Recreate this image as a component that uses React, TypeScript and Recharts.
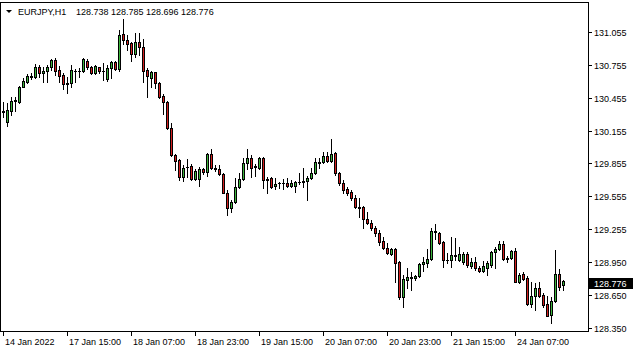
import { Bar, ComposedChart, XAxis, YAxis } from 'recharts';

// EURJPY H1, one value per candle
const opens = [
  130.334, 130.234, 130.334, 130.426, 130.417, 130.554, 130.6, 130.646, 130.646, 130.737,
  130.682, 130.701, 130.737, 130.802, 130.71, 130.664, 130.591, 130.591, 130.705, 130.701,
  130.701, 130.792, 130.737, 130.682, 130.737, 130.701, 130.628, 130.728, 130.783, 130.719,
  131.04, 130.985, 130.957, 130.856, 130.966, 130.921, 130.71, 130.637, 130.692, 130.591,
  130.472, 130.417, 130.179, 129.932, 129.886, 129.73, 129.818, 129.831, 129.712, 129.712,
  129.803, 129.776, 129.941, 129.812, 129.803, 129.758, 129.584, 129.446, 129.501, 129.638,
  129.712, 129.858, 129.904, 129.831, 129.812, 129.904, 129.712, 129.721, 129.648, 129.675,
  129.679, 129.675, 129.648, 129.648, 129.684, 129.689, 129.693, 129.721, 129.767, 129.867,
  129.867, 129.922, 129.877, 129.95, 129.767, 129.675, 129.62, 129.593, 129.538, 129.455,
  129.455, 129.345, 129.309, 129.263, 129.217, 129.144, 129.08, 129.025, 129.071, 128.952,
  128.631, 128.787, 128.814, 128.81, 128.823, 128.933, 128.942, 128.979, 129.236, 129.217,
  129.135, 128.97, 128.97, 129.016, 128.97, 128.952, 129.025, 128.915, 128.952, 128.897,
  128.869, 128.897, 128.924, 129.043, 129.071, 129.116, 128.988, 128.988, 129.052, 128.768,
  128.842, 128.805, 128.567, 128.64, 128.714, 128.649, 128.567, 128.466, 128.594, 128.842,
  128.738,
];
const highs = [
  130.417, 130.408, 130.463, 130.463, 130.563, 130.637, 130.673, 130.682, 130.765, 130.756,
  130.737, 130.756, 130.811, 130.82, 130.747, 130.682, 130.646, 130.756, 130.719, 130.728,
  130.82, 130.811, 130.747, 130.756, 130.737, 130.774, 130.756, 130.792, 130.792, 131.076,
  131.177, 131.03, 130.966, 131.049, 131.049, 130.994, 130.728, 130.701, 130.692, 130.6,
  130.49, 130.426, 130.225, 129.941, 129.895, 129.84, 129.895, 129.849, 129.803, 129.822,
  129.812, 129.95, 129.986, 129.84, 129.84, 129.767, 129.611, 129.519, 129.721, 129.767,
  129.904, 129.986, 129.932, 129.849, 129.913, 129.913, 129.73, 129.73, 129.721, 129.684,
  129.712, 129.721, 129.703, 129.693, 129.767, 129.812, 129.739, 129.812, 129.904, 129.904,
  129.959, 129.959, 130.078, 129.959, 129.776, 129.703, 129.638, 129.611, 129.565, 129.538,
  129.464, 129.41, 129.336, 129.281, 129.245, 129.181, 129.126, 129.08, 129.08, 128.961,
  128.833, 128.897, 128.86, 128.833, 128.942, 128.997, 129.071, 129.263, 129.3, 129.226,
  129.144, 129.034, 129.181, 129.172, 129.089, 129.043, 129.043, 128.988, 128.997, 128.915,
  128.961, 128.961, 129.052, 129.089, 129.144, 129.144, 129.007, 129.061, 129.08, 128.851,
  128.86, 128.823, 128.768, 128.759, 128.768, 128.668, 128.64, 128.631, 129.061, 128.887,
  128.785,
];
const lows = [
  130.28, 130.197, 130.298, 130.334, 130.408, 130.554, 130.591, 130.628, 130.637, 130.646,
  130.6, 130.6, 130.71, 130.664, 130.6, 130.536, 130.499, 130.554, 130.6, 130.646,
  130.692, 130.719, 130.673, 130.673, 130.682, 130.618, 130.609, 130.637, 130.71, 130.701,
  130.948, 130.893, 130.792, 130.829, 130.847, 130.6, 130.463, 130.554, 130.545, 130.454,
  130.307, 130.17, 129.922, 129.794, 129.703, 129.693, 129.73, 129.703, 129.703, 129.648,
  129.758, 129.739, 129.803, 129.785, 129.748, 129.584, 129.382, 129.41, 129.492, 129.629,
  129.703, 129.803, 129.73, 129.739, 129.803, 129.629, 129.584, 129.629, 129.62, 129.629,
  129.62, 129.638, 129.638, 129.593, 129.666, 129.638, 129.519, 129.712, 129.758, 129.812,
  129.858, 129.867, 129.867, 129.748, 129.657, 129.584, 129.565, 129.519, 129.446, 129.364,
  129.263, 129.3, 129.245, 129.19, 129.107, 129.071, 129.025, 129.016, 128.768, 128.613,
  128.54, 128.714, 128.695, 128.787, 128.814, 128.869, 128.906, 128.97, 129.162, 129.116,
  128.906, 128.942, 128.906, 128.97, 128.961, 128.933, 128.906, 128.897, 128.878, 128.86,
  128.86, 128.833, 128.906, 128.897, 129.061, 128.97, 128.952, 128.979, 128.768, 128.759,
  128.787, 128.558, 128.54, 128.512, 128.631, 128.54, 128.457, 128.393, 128.585, 128.695,
  128.696,
];
const closes = [
  130.325, 130.344, 130.426, 130.435, 130.554, 130.609, 130.655, 130.655, 130.737, 130.682,
  130.701, 130.737, 130.802, 130.701, 130.655, 130.582, 130.582, 130.71, 130.701, 130.705,
  130.811, 130.737, 130.682, 130.747, 130.701, 130.705, 130.728, 130.783, 130.719, 131.03,
  130.985, 130.948, 130.856, 130.966, 130.921, 130.701, 130.655, 130.692, 130.591, 130.463,
  130.417, 130.179, 129.932, 129.877, 129.73, 129.812, 129.822, 129.712, 129.785, 129.803,
  129.776, 129.941, 129.812, 129.808, 129.758, 129.584, 129.446, 129.501, 129.638, 129.712,
  129.858, 129.904, 129.812, 129.826, 129.904, 129.703, 129.707, 129.638, 129.666, 129.679,
  129.675, 129.648, 129.675, 129.684, 129.688, 129.693, 129.721, 129.767, 129.867, 129.863,
  129.922, 129.877, 129.941, 129.767, 129.675, 129.611, 129.584, 129.538, 129.455, 129.45,
  129.345, 129.309, 129.263, 129.217, 129.135, 129.08, 129.034, 129.071, 128.942, 128.631,
  128.796, 128.814, 128.81, 128.823, 128.933, 128.952, 128.979, 129.236, 129.226, 129.126,
  128.97, 128.966, 129.016, 129.007, 129.025, 129.025, 128.924, 128.952, 128.897, 128.869,
  128.915, 128.942, 129.043, 129.071, 129.116, 128.979, 128.984, 129.052, 128.768, 128.833,
  128.796, 128.567, 128.64, 128.714, 128.64, 128.558, 128.457, 128.594, 128.842, 128.723,
  128.776,
];

const timeTickIdx = [0, 16, 32, 48, 64, 80, 96, 112, 128];
const timeTickLabels = [
  '14 Jan 2022', '17 Jan 15:00', '18 Jan 07:00', '18 Jan 23:00', '19 Jan 15:00',
  '20 Jan 07:00', '20 Jan 23:00', '21 Jan 15:00', '24 Jan 07:00',
];
const priceTicks = [128.35, 128.65, 128.95, 129.255, 129.555, 129.855, 130.155, 130.455, 130.755, 131.055];
const priceDomain = [128.311, 131.333];
const emptyBarsRight = 6;

const symbol = 'EURJPY,H1';
const lastIdx = closes.length - 1;
const lastClose = closes[lastIdx];
const headerValues = [opens[lastIdx], highs[lastIdx], lows[lastIdx], closes[lastIdx]]
  .map((v) => v.toFixed(3))
  .join(' ');

const BULL = '#3cb43c';
const BEAR = '#d21e1e';
const FONT = '"Liberation Sans", Arial, sans-serif';

const rows = Array.from({ length: closes.length + emptyBarsRight }, (_, i) =>
  i < closes.length
    ? {
        i,
        open: opens[i],
        high: highs[i],
        low: lows[i],
        close: closes[i],
        range: [lows[i], highs[i]],
      }
    : { i }
);

function Candle(props: any) {
  const { x, y, width, height, payload } = props;
  if (!payload || payload.open == null) return null;
  const { open, high, low, close } = payload;
  const top = Math.min(y, y + height);
  const bot = Math.max(y, y + height);
  const span = high - low;
  const py = (p: number) => (span === 0 ? top : top + ((high - p) / span) * (bot - top));
  const cx = Math.round(x + width / 2) + 0.5;
  const bTop = Math.round(py(Math.max(open, close)));
  const bBot = Math.round(py(Math.min(open, close)));
  return (
    <g>
      <line x1={cx} x2={cx} y1={Math.round(top)} y2={Math.round(bot) + 1} stroke="#000" strokeWidth={1} />
      {bBot > bTop ? (
        <rect
          x={cx - 1}
          y={bTop + 0.5}
          width={2}
          height={bBot - bTop}
          fill={close >= open ? BULL : BEAR}
          stroke="#000"
          strokeWidth={1}
        />
      ) : (
        <line x1={cx - 1.5} x2={cx + 1.5} y1={bTop + 0.5} y2={bTop + 0.5} stroke="#000" strokeWidth={1} />
      )}
    </g>
  );
}

function TimeTick(props: any) {
  const { x, y, payload } = props;
  const k = timeTickIdx.indexOf(payload.value);
  if (k < 0) return null;
  const lx = Math.round(x) + 0.5;
  return (
    <g>
      <line x1={lx} x2={lx} y1={y - 4} y2={y} stroke="#000" />
      <text x={lx + 1.5} y={y + 9} fontSize={9} fontFamily={FONT} fill="#000" textAnchor="start">
        {timeTickLabels[k]}
      </text>
    </g>
  );
}

function PriceTick(props: any) {
  const { x, y, payload } = props;
  const ly = Math.round(y) + 0.5;
  if (payload.value === lastClose) {
    return (
      <g>
        <rect x={x - 4} y={Math.round(y) - 3} width={44} height={11} fill="#000" />
        <text x={x + 1} y={Math.round(y) + 6} fontSize={9} fontFamily={FONT} fill="#fff">
          {payload.value.toFixed(3)}
        </text>
      </g>
    );
  }
  return (
    <g>
      <line x1={x - 5} x2={x - 1} y1={ly} y2={ly} stroke="#000" />
      <text x={x + 1} y={ly + 3.5} fontSize={9} fontFamily={FONT} fill="#000">
        {payload.value.toFixed(3)}
      </text>
    </g>
  );
}

export default function App() {
  return (
    <div style={{ position: 'absolute', left: 0, top: 0, width: 635, height: 352, background: '#fff' }}>
      <ComposedChart
        width={635}
        height={352}
        data={rows}
        margin={{ top: 2, right: 0, bottom: 0, left: 1 }}
        barCategoryGap={0}
      >
        <XAxis
          dataKey="i"
          type="category"
          interval={0}
          height={20}
          axisLine={false}
          tickLine={false}
          tickSize={4}
          tickMargin={0}
          tick={<TimeTick />}
        />
        <YAxis
          orientation="right"
          type="number"
          width={46}
          domain={priceDomain}
          allowDataOverflow
          ticks={[...priceTicks, lastClose]}
          interval={0}
          axisLine={false}
          tickLine={false}
          tickSize={4}
          tickMargin={0}
          tick={<PriceTick />}
        />
        <Bar dataKey="range" shape={<Candle />} isAnimationActive={false} />
      </ComposedChart>
      <div
        style={{
          position: 'absolute',
          left: 0,
          top: 2,
          width: 589,
          height: 330,
          border: '1px solid #000',
          boxSizing: 'border-box',
          pointerEvents: 'none',
        }}
      />
      <svg width={240} height={20} style={{ position: 'absolute', left: 0, top: 0 }}>
        <polygon points="6,10 12,10 9,13" fill="#000" />
        <text x={18} y={15} fontSize={9} fontFamily={FONT} fill="#000">
          {symbol}
        </text>
        <text x={76} y={15} fontSize={9} fontFamily={FONT} fill="#000">
          {headerValues}
        </text>
      </svg>
    </div>
  );
}
